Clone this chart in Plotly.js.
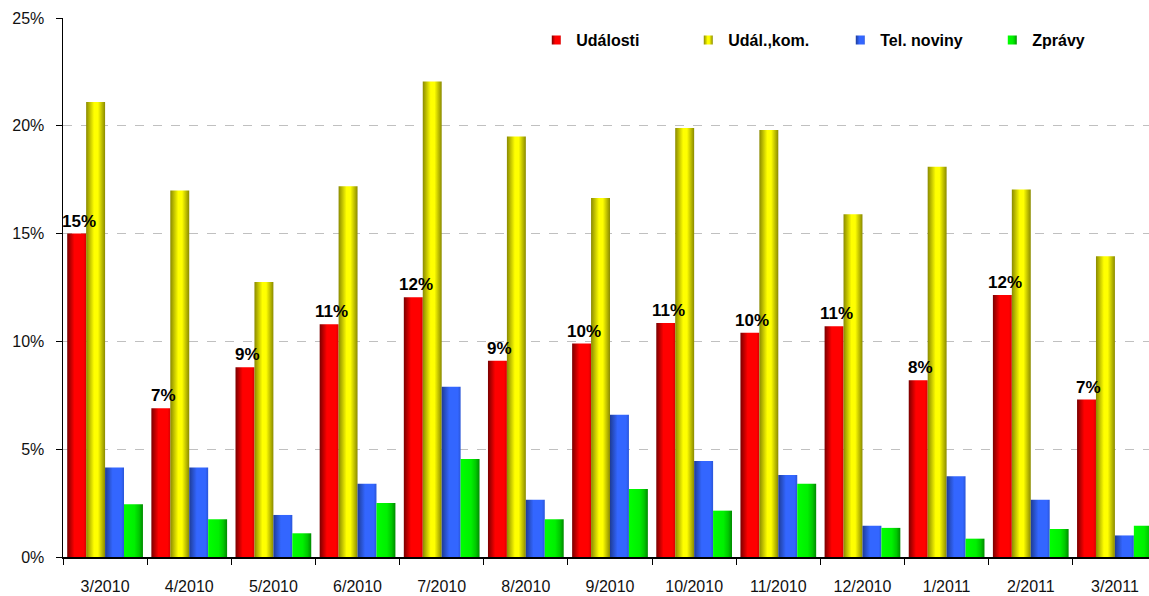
<!DOCTYPE html>
<html>
<head>
<meta charset="utf-8">
<script src="https://cdn.plot.ly/plotly-3.0.1.min.js"></script>
<style>html,body{margin:0;padding:0;background:#fff;}#chart{width:1149px;height:596px;}</style>
</head>
<body>
<div id="chart"></div>
<script>
const months = ["3/2010","4/2010","5/2010","6/2010","7/2010","8/2010","9/2010","10/2010","11/2010","12/2010","1/2011","2/2011","3/2011"];
const udalosti   = [15.0, 6.9, 8.8, 10.8, 12.05, 9.1, 9.9, 10.85, 10.4, 10.7, 8.2, 12.15, 7.3];
const udalKom    = [21.1, 17.0, 12.75, 17.2, 22.05, 19.5, 16.65, 19.9, 19.8, 15.9, 18.1, 17.05, 13.95];
const telNoviny  = [4.15, 4.15, 1.95, 3.4, 7.9, 2.65, 6.6, 4.45, 3.8, 1.45, 3.75, 2.65, 1.0];
const zpravy     = [2.45, 1.75, 1.1, 2.5, 4.55, 1.75, 3.15, 2.15, 3.4, 1.35, 0.85, 1.3, 1.45];
const seriesNames = ["Události","Udál.,kom.","Tel. noviny","Zprávy"];
const yTicks = [0,5,10,15,20,25];
const yTickText = ["0%","5%","10%","15%","20%","25%"];

const colors = ["#f00000","#f0f000","#3366f5","#00f000"];
// horizontal shading of each series' bars (offset, colour)
const shading = [
  [[0,"#7a0000"],[0.38,"#ff0000"],[0.85,"#ff0000"],[1,"#d80000"]],
  [[0,"#8a8a00"],[0.42,"#ffff00"],[0.62,"#ffff00"],[1,"#8a8a00"]],
  [[0,"#1e3c96"],[0.4,"#3366ff"],[0.85,"#3366ff"],[1,"#2a55d8"]],
  [[0,"#00ff00"],[0.55,"#00f000"],[0.8,"#00c800"],[1,"#008a00"]]
];
const allVals = [udalosti, udalKom, telNoviny, zpravy];
const FF = 'Liberation Sans, Arial, sans-serif';

const traces = allVals.map((vals,i)=>({
  type:'bar', x: months, y: vals, name: seriesNames[i],
  marker:{color: colors[i], line:{width:0}},
  hoverinfo:'x+y'
}));

// value labels above the "Události" bars (leftmost bar of each group)
const labelAnnotations = months.map((m,i)=>({
  x: m, y: udalosti[i], xref:'x', yref:'y',
  text: Math.round(udalosti[i]) + '%',
  showarrow:false, yanchor:'bottom', xanchor:'center',
  xshift:-26, yshift:1,
  font:{family:FF, size:17, color:'#000', weight:'bold'}
}));

const layout = {
  width:1149, height:596,
  margin:{l:62.5, r:0, t:18, b:39, pad:0, autoexpand:false},
  paper_bgcolor:'#fff', plot_bgcolor:'#fff',
  barmode:'group', bargap:0.1, bargroupgap:0,
  showlegend:true,
  legend:{orientation:'h', x:0.4358, y:0.959, xanchor:'left', yanchor:'middle',
    font:{family:FF, size:16, color:'#000', weight:'bold'},
    entrywidth:107, itemwidth:30, bgcolor:'rgba(0,0,0,0)', traceorder:'normal'},
  font:{family:FF, size:16, color:'#222'},
  annotations: labelAnnotations,
  xaxis:{type:'category', range:[-0.5, 12.405], tickson:'boundaries', ticks:'outside', ticklen:6, tickcolor:'#000',
    showline:true, linecolor:'#000', linewidth:1.5, showgrid:false, ticklabelstandoff:14,
    tickfont:{family:FF, size:16, color:'#111'}},
  yaxis:{range:[0,25], tickmode:'array', tickvals:yTicks, ticktext:yTickText, ticks:'outside', ticklen:6, tickcolor:'#000',
    showline:true, linecolor:'#000', linewidth:1.5, showgrid:true, gridcolor:'#c0c0c0', griddash:'dash', gridwidth:1,
    zeroline:false, ticklabelstandoff:8,
    tickfont:{family:FF, size:16, color:'#111'}}
};

Plotly.newPlot('chart', traces, layout, {displayModeBar:false, staticPlot:true}).then(gd=>{
  const NS = 'http://www.w3.org/2000/svg';
  const svg = gd.querySelector('svg.main-svg');
  let defs = svg.querySelector('defs');
  if(!defs){ defs = document.createElementNS(NS,'defs'); svg.insertBefore(defs, svg.firstChild); }
  shading.forEach((stops,i)=>{
    const g = document.createElementNS(NS,'linearGradient');
    g.setAttribute('id','barShade'+i);
    g.setAttribute('x1','0'); g.setAttribute('x2','1'); g.setAttribute('y1','0'); g.setAttribute('y2','0');
    stops.forEach(([o,c])=>{
      const s = document.createElementNS(NS,'stop');
      s.setAttribute('offset', o); s.setAttribute('stop-color', c);
      g.appendChild(s);
    });
    defs.appendChild(g);
  });
  gd.querySelectorAll('.barlayer .trace.bars').forEach((tr,i)=>{
    tr.querySelectorAll('.point path').forEach(p=>{ p.style.fill = 'url(#barShade'+i+')'; });
  });
  gd.querySelectorAll('.legend .traces').forEach((tr,i)=>{
    tr.querySelectorAll('.legendpoints path').forEach(p=>{
      p.style.fill = 'url(#barShade'+i+')';
      const t = p.getAttribute('transform') || '';
      p.setAttribute('transform', (t + ' scale(0.75)').trim());
    });
  });
});
</script>
</body>
</html>
